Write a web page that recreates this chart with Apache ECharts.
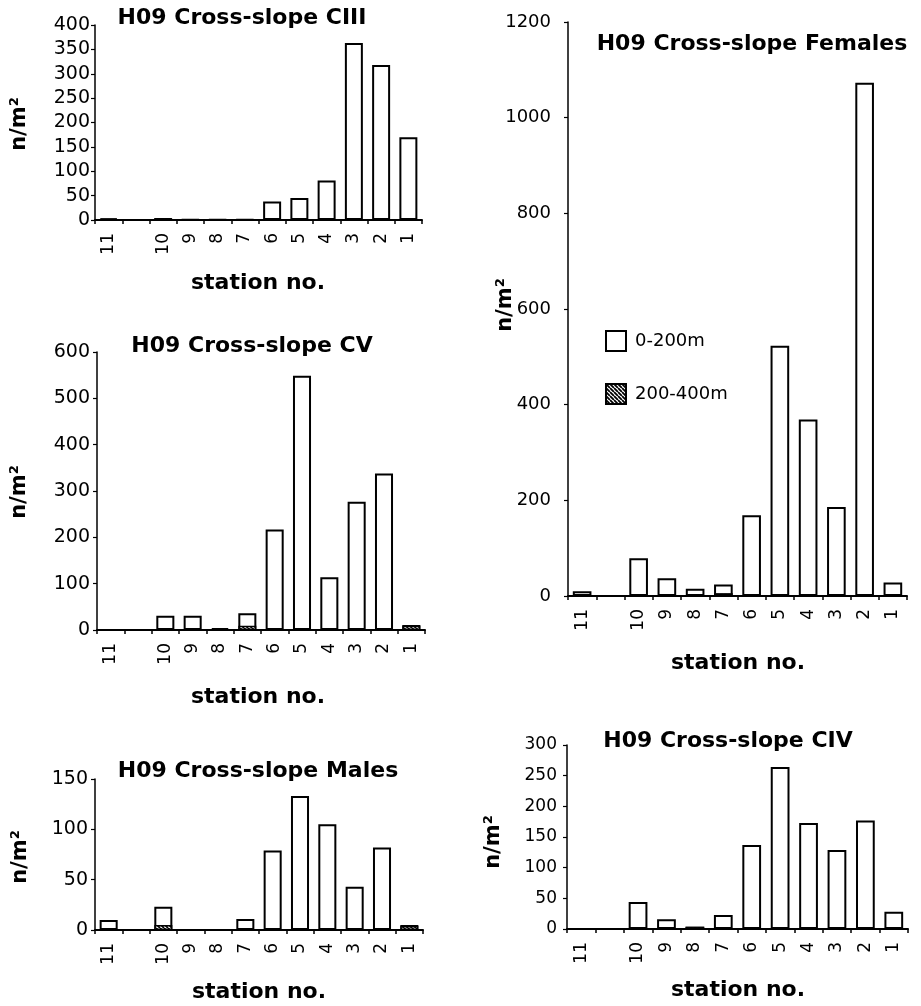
<!DOCTYPE html>
<html>
<head>
<meta charset="utf-8">
<script src="https://cdn.jsdelivr.net/npm/echarts@6/dist/echarts.min.js"></script>
<style>
html,body{margin:0;padding:0;background:#fff;}
#chart{width:921px;height:1006px;}
</style>
</head>
<body>
<div id="chart"></div>
<script>
// ---------- data ----------
const categories = ['11', '', '10', '9', '8', '7', '6', '5', '4', '3', '2', '1'];
const seriesNames = ['0-200m', '200-400m'];

const ciiiShallow = [3, null, 4, 1, 1, 1, 38, 45, 81, 363, 318, 170];
const ciiiDeep    = [3, null, 4, 1, 1, 1, 0, 0, 0, 0, 0, 0];

const cvShallow = [0, null, 31, 31, 4, 36, 217, 549, 114, 277, 338, 11];
const cvDeep    = [0, null, 0, 0, 3, 9, 0, 0, 0, 0, 0, 9];

const malesShallow = [10, null, 23, 0, 0, 11, 79, 133, 105, 43, 82, 5];
const malesDeep    = [0, null, 5, 0, 0, 0, 0, 0, 0, 0, 0, 4];

const femalesShallow = [10, null, 79, 37, 15, 24, 169, 523, 369, 186, 1073, 28];
const femalesDeep    = [0, null, 0, 0, 0, 6, 0, 0, 0, 0, 0, 0];

const civShallow = [0, null, 44, 16, 4, 23, 137, 264, 173, 129, 177, 28];
const civDeep    = [0, null, 0, 0, 3, 0, 0, 0, 0, 0, 0, 0];

const yAxisName = 'n/m²';
const xAxisName = 'station no.';

// ---------- layout ----------
const panels = [
  {title: 'H09 Cross-slope CIII', shallow: ciiiShallow, deep: ciiiDeep, max: 400, interval: 50,
   grid: {left: 95, top: 25, width: 327, height: 195}, titlePos: [242, 18], yNamePos: [20, 124], xNamePos: [258, 283], yFont: 19, yMargin: 5},
  {title: 'H09 Cross-slope CV', shallow: cvShallow, deep: cvDeep, max: 600, interval: 100,
   grid: {left: 97, top: 352, width: 328, height: 278}, titlePos: [252, 346], yNamePos: [20, 492], xNamePos: [258, 697], yFont: 19, yMargin: 7},
  {title: 'H09 Cross-slope Males', shallow: malesShallow, deep: malesDeep, max: 150, interval: 50,
   grid: {left: 95, top: 779, width: 328, height: 151}, titlePos: [258, 771], yNamePos: [21, 857], xNamePos: [259, 992], yFont: 19, yMargin: 7},
  {title: 'H09 Cross-slope Females', shallow: femalesShallow, deep: femalesDeep, max: 1200, interval: 200,
   grid: {left: 568, top: 22, width: 339, height: 574}, titlePos: [752, 44], yNamePos: [506, 305], xNamePos: [738, 663], yFont: 18, yMargin: 17},
  {title: 'H09 Cross-slope CIV', shallow: civShallow, deep: civDeep, max: 300, interval: 50,
   grid: {left: 567, top: 745, width: 341, height: 184}, titlePos: [728, 741], yNamePos: [494, 842], xNamePos: [738, 990], yFont: 17, yMargin: 10}
];

// hatch pattern
function makeHatch() {
  const s = 4;
  const c = document.createElement('canvas');
  c.width = s; c.height = s;
  const ctx = c.getContext('2d');
  ctx.fillStyle = '#fff';
  ctx.fillRect(0, 0, s, s);
  ctx.strokeStyle = '#000';
  ctx.lineWidth = 1.8;
  ctx.beginPath();
  for (const k of [-s, 0, s]) {
    ctx.moveTo(k, 0);
    ctx.lineTo(k + s, s);
  }
  ctx.stroke();
  return c;
}
const hatch = {image: makeHatch(), repeat: 'repeat'};

const FONT = 'DejaVu Sans';
const grids = [], xAxes = [], yAxes = [], series = [], graphics = [];

panels.forEach((p, i) => {
  grids.push(Object.assign({containLabel: false}, p.grid));
  xAxes.push({
    type: 'category', gridIndex: i, data: categories, boundaryGap: true,
    axisLine: {lineStyle: {color: '#000', width: 2}},
    axisTick: {show: true, length: 4, lineStyle: {color: '#000', width: 1.5}},
    axisLabel: {interval: 0, rotate: 90, margin: 13, color: '#000', fontFamily: FONT, fontSize: 17},
    splitLine: {show: false}
  });
  yAxes.push({
    type: 'value', gridIndex: i, min: 0, max: p.max, interval: p.interval,
    axisLine: {show: true, lineStyle: {color: '#000', width: 1.5}},
    axisTick: {show: true, length: 4, lineStyle: {color: '#000', width: 1.2}},
    axisLabel: {color: '#000', fontFamily: FONT, fontSize: p.yFont, margin: p.yMargin,
                formatter: v => String(v)},
    splitLine: {show: false}
  });
  series.push({
    name: seriesNames[0], type: 'bar', xAxisIndex: i, yAxisIndex: i, data: p.shallow,
    barWidth: '66%', barGap: '-100%',
    itemStyle: {color: '#fff', borderColor: '#000', borderWidth: 2},
    emphasis: {disabled: true}, animation: false
  });
  series.push({
    name: seriesNames[1], type: 'bar', xAxisIndex: i, yAxisIndex: i, data: p.deep,
    barWidth: '66%', barGap: '-100%',
    itemStyle: {color: hatch, borderColor: '#000', borderWidth: 1.5},
    emphasis: {disabled: true}, animation: false
  });
  graphics.push({
    type: 'text', x: p.titlePos[0], y: p.titlePos[1],
    style: {text: p.title, fill: '#000', font: 'bold 22px "DejaVu Sans"', align: 'center', verticalAlign: 'middle'}
  });
  graphics.push({
    type: 'text', x: p.yNamePos[0], y: p.yNamePos[1], rotation: Math.PI / 2,
    style: {text: yAxisName, fill: '#000', font: 'bold 21px "DejaVu Sans"', align: 'center', verticalAlign: 'middle'}
  });
  graphics.push({
    type: 'text', x: p.xNamePos[0], y: p.xNamePos[1],
    style: {text: xAxisName, fill: '#000', font: 'bold 22px "DejaVu Sans"', align: 'center', verticalAlign: 'middle'}
  });
});

const chart = echarts.init(document.getElementById('chart'), null, {renderer: 'canvas', width: 921, height: 1006});
chart.setOption({
  backgroundColor: '#fff',
  animation: false,
  grid: grids,
  xAxis: xAxes,
  yAxis: yAxes,
  series: series,
  legend: {
    data: seriesNames, orient: 'vertical', left: 600, top: 325,
    itemWidth: 20, itemHeight: 20, itemGap: 31, icon: 'rect',
    textStyle: {color: '#000', fontFamily: FONT, fontSize: 18, padding: [0, 0, 0, 4]},
    selectedMode: false
  },
  graphic: graphics
});
</script>
</body>
</html>
